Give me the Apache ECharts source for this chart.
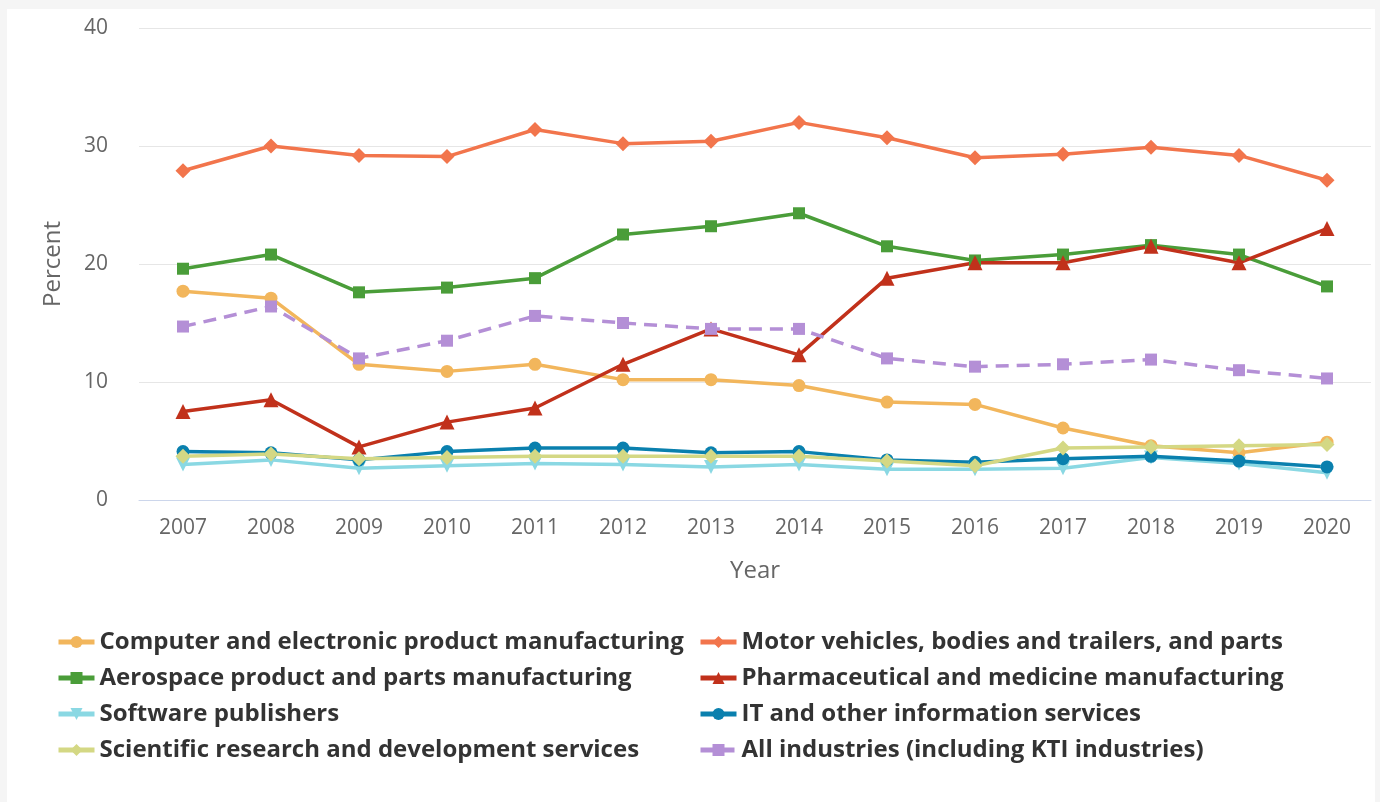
<!DOCTYPE html>
<html>
<head>
<meta charset="utf-8">
<style>
  html, body { margin: 0; padding: 0; background: #f5f5f5; }
  #panel { position: absolute; left: 7px; top: 9px; width: 1368px; height: 793px; background: #fff; }
  #chart { position: absolute; left: 0; top: 0; width: 1380px; height: 802px; }
</style>
<script src="https://cdn.jsdelivr.net/npm/echarts@6/dist/echarts.min.js"></script>
</head>
<body>
<div id="panel"></div>
<div id="chart"></div>
<script>
var years = ['2007', '2008', '2009', '2010', '2011', '2012', '2013', '2014', '2015', '2016', '2017', '2018', '2019', '2020']

var computer = [17.7, 17.1, 11.5, 10.9, 11.5, 10.2, 10.2, 9.7, 8.3, 8.1, 6.1, 4.6, 4.0, 4.9]
var motor = [27.9, 30.0, 29.2, 29.1, 31.4, 30.2, 30.4, 32.0, 30.7, 29.0, 29.3, 29.9, 29.2, 27.1]
var aerospace = [19.6, 20.8, 17.6, 18.0, 18.8, 22.5, 23.2, 24.3, 21.5, 20.3, 20.8, 21.6, 20.8, 18.1]
var pharma = [7.5, 8.5, 4.5, 6.6, 7.8, 11.5, 14.5, 12.3, 18.8, 20.1, 20.1, 21.5, 20.1, 23.0]
var software = [3.0, 3.4, 2.7, 2.9, 3.1, 3.0, 2.8, 3.0, 2.6, 2.6, 2.7, 3.6, 3.1, 2.3]
var itServices = [4.1, 4.0, 3.4, 4.1, 4.4, 4.4, 4.0, 4.1, 3.4, 3.2, 3.5, 3.7, 3.3, 2.8]
var scientific = [3.7, 3.9, 3.5, 3.6, 3.7, 3.7, 3.7, 3.7, 3.3, 2.9, 4.4, 4.5, 4.6, 4.7]
var allIndustries = [14.7, 16.4, 12.0, 13.5, 15.6, 15.0, 14.5, 14.5, 12.0, 11.3, 11.5, 11.9, 11.0, 10.3]

var names = {
  computer: 'Computer and electronic product manufacturing',
  motor: 'Motor vehicles, bodies and trailers, and parts',
  aerospace: 'Aerospace product and parts manufacturing',
  pharma: 'Pharmaceutical and medicine manufacturing',
  software: 'Software publishers',
  it: 'IT and other information services',
  scientific: 'Scientific research and development services',
  all: 'All industries (including KTI industries)'
}

function line(name, data, color, symbol, size, extra) {
  var s = {
    name: name,
    type: 'line',
    data: data,
    symbol: symbol,
    symbolSize: size,
    showSymbol: true,
    itemStyle: { color: color },
    lineStyle: { color: color, width: 3.5 },
    emphasis: { disabled: true }
  }
  return Object.assign(s, extra || {})
}

var chart = echarts.init(document.getElementById('chart'))

var legendText = { fontFamily: 'Open Sans', fontSize: 24, fontWeight: 'bold', color: '#333', lineHeight: 26 }

chart.setOption({
  animation: false,
  textStyle: { fontFamily: 'Open Sans' },
  grid: { left: 139, right: 9, top: 28, bottom: 302 },
  legend: [
    {
      orient: 'vertical', left: 51, top: 624, itemGap: 10, itemWidth: 36, itemHeight: 15,
      lineStyle: { width: 5 },
      textStyle: legendText,
      data: [names.computer, names.aerospace, names.software, names.scientific]
    },
    {
      orient: 'vertical', left: 693, top: 624, itemGap: 10, itemWidth: 36, itemHeight: 15,
      lineStyle: { width: 5 },
      textStyle: legendText,
      data: [names.motor, names.pharma, names.it, names.all]
    }
  ],
  xAxis: {
    type: 'category',
    data: years,
    boundaryGap: true,
    name: 'Year',
    nameLocation: 'middle',
    nameGap: 59,
    nameTextStyle: { fontSize: 24, color: '#666' },
    axisLine: { lineStyle: { color: '#ccd6eb', width: 1 } },
    axisTick: { alignWithLabel: true, length: 10, lineStyle: { color: '#ccd6eb' } },
    axisLabel: { fontSize: 21, color: '#666', margin: 18 }
  },
  yAxis: {
    type: 'value',
    min: 0,
    max: 40,
    interval: 10,
    name: 'Percent',
    nameLocation: 'middle',
    nameGap: 74,
    nameTextStyle: { fontSize: 24, color: '#666' },
    axisLine: { show: false },
    axisTick: { show: false },
    axisLabel: { fontSize: 21, color: '#666', margin: 31 },
    splitLine: { lineStyle: { color: '#e6e6e6', width: 1 } }
  },
  series: [
    line(names.computer, computer, '#f2b65c', 'circle', 13),
    line(names.motor, motor, '#f2754c', 'diamond', 15),
    line(names.aerospace, aerospace, '#4a9d39', 'rect', 12),
    line(names.pharma, pharma, '#c1311b', 'triangle', 15),
    line(names.software, software, '#8ad8e3', 'triangle', 14, { symbolRotate: 180 }),
    line(names.it, itServices, '#0a80ae', 'circle', 13),
    line(names.scientific, scientific, '#d4d884', 'diamond', 15),
    line(names.all, allIndustries, '#b48fd6', 'rect', 12, { lineStyle: { color: '#b48fd6', width: 3.5, type: [13, 8] } })
  ]
})
</script>
</body>
</html>
